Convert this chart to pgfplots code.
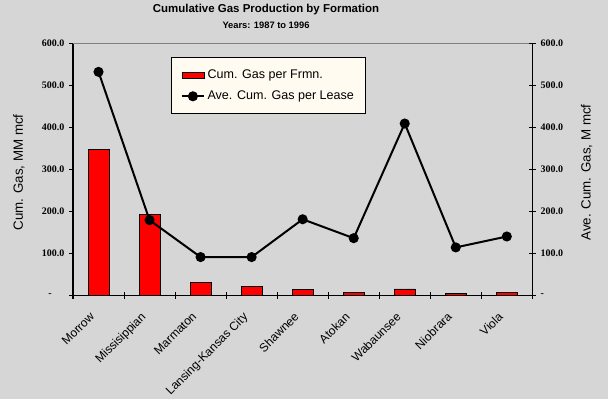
\documentclass[border=0pt]{standalone}
\usepackage{fontspec}
\setmainfont{Liberation Sans}
\newfontfamily\serifb{Liberation Serif}
\usepackage{pgfplots}
\pgfplotsset{compat=1.18}
\definecolor{bg}{RGB}{214,214,214}
\definecolor{cream}{RGB}{255,251,240}
\definecolor{topline}{RGB}{128,128,128}
\begin{document}
\begin{tikzpicture}
\fill[bg] (0pt,0pt) rectangle (456pt,299.25pt);
\useasboundingbox (0pt,0pt) rectangle (456pt,299.25pt);
% titles
\node[font=\bfseries\fontsize{8.6}{10}\selectfont] at (199.5pt,292.1pt) {Cumulative Gas Production by Formation};
\node[font=\bfseries\fontsize{7}{8}\selectfont] at (199.5pt,280.5pt) {Years: 1987 to 1996};
\node[rotate=90,font=\fontsize{10}{12}\selectfont] at (14.25pt,169.9pt) {Cum. Gas, MM mcf};
\node[rotate=90,font=\fontsize{10}{12}\selectfont] at (440pt,169.9pt) {Ave. Cum. Gas, M mcf};
% bars, left axis
\begin{axis}[
  at={(54.75pt,77.775pt)}, anchor=origin,
  scale only axis, width=344.5pt, height=189pt,
  xmin=0, xmax=9, ymin=0, ymax=600,
  axis y line*=left, axis x line*=bottom,
  axis line style={black,line width=1pt},
  ybar, bar width=15.75pt,
  xtick={0.5,1.5,...,8.5},
  xticklabels={Morrow,Missisippian,Marmaton,Lansing-Kansas City,Shawnee,Atokan,Wabaunsee,Niobrara,Viola},
  xtick style={draw=none},
  xticklabel style={xshift=-7pt,yshift=-7.5pt,rotate=45,anchor=north east,font=\fontsize{9}{10}\selectfont,inner sep=1pt},
  ytick={0,100,...,600},
  yticklabels={-\hphantom{0.0},100.0,200.0,300.0,400.0,500.0,600.0},
  yticklabel style={font=\serifb\bfseries\fontsize{7.5}{9}\selectfont},
  tick align=outside, major tick length=3pt,
  ytick style={black,line width=0.8pt},
]
\addplot[fill=red,draw=black,line width=0.6pt] coordinates {
(0.5,348) (1.5,193) (2.5,31) (3.5,21) (4.5,14) (5.5,7) (6.5,15) (7.5,5) (8.5,7)};
\draw[topline,line width=0.8pt] (rel axis cs:0,1) -- (rel axis cs:1,1);
\end{axis}
% line, right axis
\begin{axis}[
  at={(54.75pt,77.775pt)}, anchor=origin,
  scale only axis, width=344.5pt, height=189pt,
  xmin=0, xmax=9, ymin=0, ymax=600,
  axis y line*=right, axis x line*=bottom,
  axis line style={black,line width=1pt},
  xtick={0,1,...,9}, xticklabels={},
  ytick={0,100,...,600},
  yticklabels={-,100.0,200.0,300.0,400.0,500.0,600.0},
  yticklabel style={font=\serifb\bfseries\fontsize{7.5}{9}\selectfont},
  tick align=center, major tick length=5.5pt,
  tick style={black,line width=0.8pt},
  legend style={at={(0.2135,0.9456)}, anchor=north west, draw=black, line width=0.75pt,
    fill=cream, font=\fontsize{9.4}{11}\selectfont, inner xsep=7pt, inner ysep=7pt,
    row sep=4pt, legend cell align=left},
]
\addlegendimage{legend image code/.code={\fill[red,draw=black,line width=0.5pt] (0pt,-2.25pt) rectangle (16.5pt,2.25pt);}}
\addlegendentry{Cum. Gas per Frmn.}
\addplot[black,line width=1.5pt,mark=*,mark size=3pt,
  legend image code/.code={\draw[black,line width=1.5pt] (0pt,0pt) -- (16.5pt,0pt); \fill[black] (8.25pt,0pt) circle (3pt);}]
  coordinates {(0.5,532) (1.5,179) (2.5,91) (3.5,91) (4.5,181) (5.5,136) (6.5,409) (7.5,114) (8.5,140)};
\addlegendentry{Ave. Cum. Gas per Lease}
\end{axis}
\end{tikzpicture}
\end{document}
